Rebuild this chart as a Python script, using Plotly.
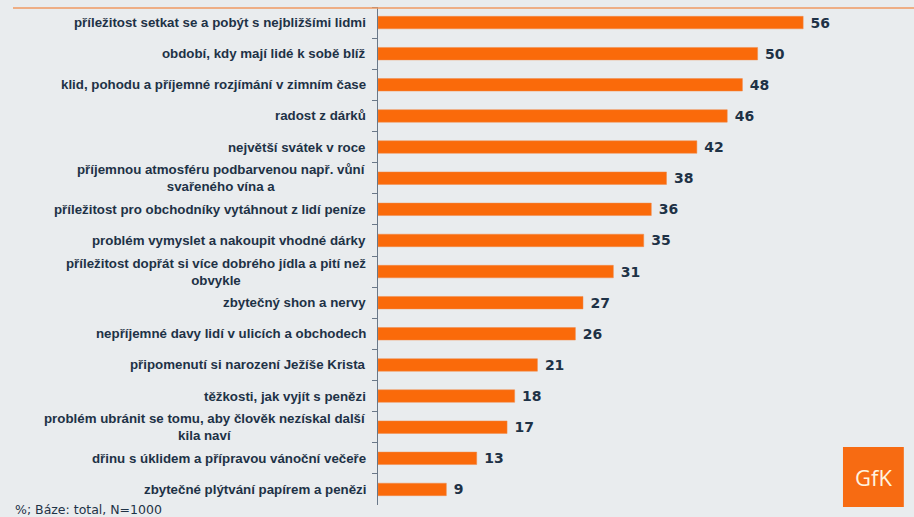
import plotly.graph_objects as go

categories = [
    "příležitost setkat se a pobýt s nejbližšími lidmi",
    "období, kdy mají lidé k sobě blíž",
    "klid, pohodu a příjemné rozjímání v zimním čase",
    "radost z dárků",
    "největší svátek v roce",
    "příjemnou atmosféru podbarvenou např. vůní<br>svařeného vína a",
    "příležitost pro obchodníky vytáhnout z lidí peníze",
    "problém vymyslet a nakoupit vhodné dárky",
    "příležitost dopřát si více dobrého jídla a pití než<br>obvykle",
    "zbytečný shon a nervy",
    "nepříjemné davy lidí v ulicích a obchodech",
    "připomenutí si narození Ježíše Krista",
    "těžkosti, jak vyjít s penězi",
    "problém ubránit se tomu, aby člověk nezískal další<br>kila naví",
    "dřinu s úklidem a přípravou vánoční večeře",
    "zbytečné plýtvání papírem a penězi",
]
values = [56, 50, 48, 46, 42, 38, 36, 35, 31, 27, 26, 21, 18, 17, 13, 9]
footnote = "%; Báze: total, N=1000"

ids = [f"c{i}" for i in range(len(categories))]
navy = "#1e3246"
orange = "#fa6a0a"

fig = go.Figure()
fig.add_trace(go.Bar(
    x=values, y=ids, orientation="h",
    marker=dict(color=orange, line=dict(color="#f08a4a", width=0.5)),
    width=0.4,
    text=[f"\u00a0<b>{v}</b>" for v in values], textposition="outside",
    constraintext="none",
    textfont=dict(family="DejaVu Sans", size=14, color=navy),
    cliponaxis=False, hoverinfo="skip",
))

annotations = []
for cid, lab in zip(ids, categories):
    annotations.append(dict(
        x=0, xref="paper", y=cid, yref="y", text="<b>" + lab + "</b>",
        xanchor="right", yanchor="middle", align="center", xshift=-10,
        showarrow=False, font=dict(family="Liberation Sans", size=13.3, color=navy),
    ))
annotations.append(dict(
    x=-0.681, xref="paper", y=0, yref="paper", yshift=-4, text=footnote,
    xanchor="left", yanchor="middle", showarrow=False,
    font=dict(family="DejaVu Sans", size=12.5, color=navy),
))
annotations.append(dict(
    x=0.924, xref="paper", y=0.056, yref="paper", text="GfK",
    xanchor="center", yanchor="middle", showarrow=False,
    font=dict(family="Open Sans", size=22, color="#fff4e0"),
))

fig.update_layout(
    width=914, height=517,
    margin=dict(l=378, r=0, t=7, b=12, autoexpand=False),
    paper_bgcolor="#e9ecee", plot_bgcolor="#e9ecee",
    showlegend=False,
    annotations=annotations,
    xaxis=dict(range=[0, 70.6], visible=False, fixedrange=True),
    yaxis=dict(
        autorange="reversed", showticklabels=False, tickson="boundaries",
        ticks="outside", ticklen=5, tickcolor="#6a7888",
        showline=True, linecolor="#6a7888", linewidth=1,
        showgrid=False, zeroline=False, fixedrange=True,
    ),
    shapes=[
        dict(type="line", xref="paper", yref="paper", x0=-0.681, x1=1, y0=0.998, y1=0.998,
             line=dict(color="#ef9a62", width=1.5)),
        dict(type="rect", xref="paper", yref="paper", x0=0.8675, x1=0.981, y0=-0.004, y1=0.1165,
             fillcolor="#f76b12", line=dict(width=0), layer="above"),
    ],
)

fig.write_html("out.html", config={"displayModeBar": False},
               post_script="document.body.style.margin='0';")
